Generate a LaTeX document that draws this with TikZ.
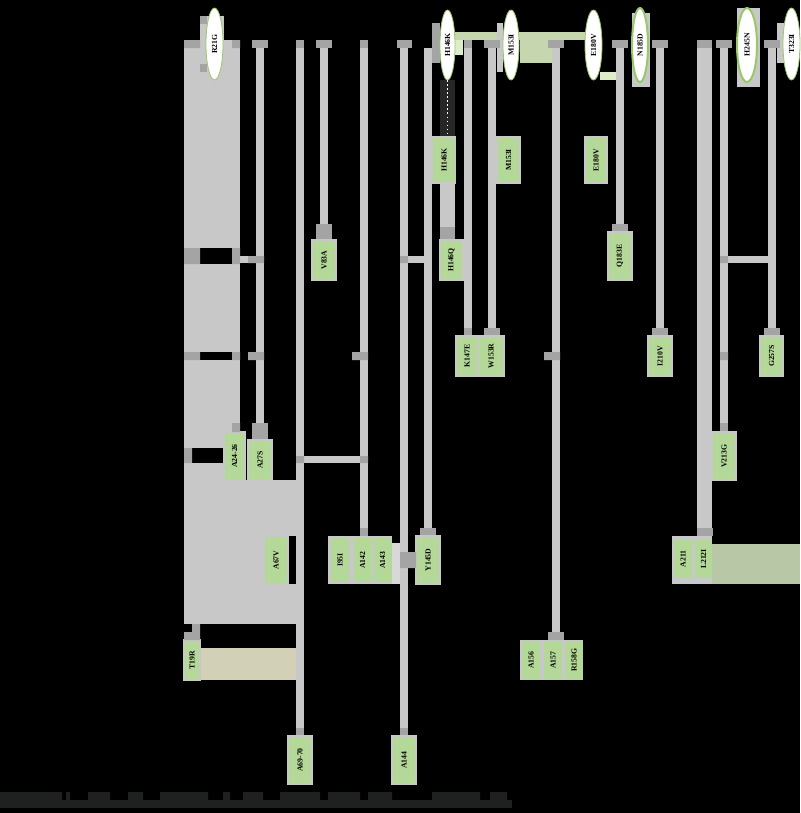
\documentclass[tikz,border=0pt]{standalone}
\usepackage{fontspec}
\usepackage{xcolor}
\usepackage{tikz}
\usetikzlibrary{shapes.geometric}
\newfontfamily\mutserif{Liberation Serif}
\newcommand{\mutfont}{\mutserif\bfseries\fontsize{5.5}{6}\selectfont}
\definecolor{branchgray}{HTML}{C8C8C8}
\definecolor{capgray}{HTML}{A4A4A4}
\definecolor{leafgreen}{HTML}{B4D898}
\definecolor{ringgreen}{HTML}{98C868}
\definecolor{bandgreen}{HTML}{C6D6AE}
\definecolor{palegreen}{HTML}{DEECC8}
\definecolor{mossgray}{HTML}{B8C8A6}
\definecolor{sandgray}{HTML}{D3D0B8}
\definecolor{inkgray}{HTML}{1F2121}
\definecolor{dotgray}{HTML}{262626}
\definecolor{lightgray}{HTML}{D8D8D8}

\begin{document}
\begin{tikzpicture}[
       x=0.25mm, y=-0.25mm,
       leafbox/.style={
           rectangle, rotate=90,
           fill=leafgreen,
           draw=branchgray, line width=0.4mm,
           inner sep=0pt,
           minimum width=10mm, minimum height=6mm,
           font=\mutfont
       },
       leafin/.style={
           rectangle, rotate=90,
           fill=leafgreen,
           inner sep=0pt,
           minimum width=11mm, minimum height=4.5mm,
           font=\mutfont
       },
       tagnode/.style={
           ellipse, rotate=90,
           fill=white,
           draw=ringgreen, line width=0.2mm,
           inner sep=0pt,
           minimum width=18mm, minimum height=4.25mm,
           font=\mutfont
       },
       capbox/.style={
           rectangle,
           fill=capgray,
           inner sep=0pt,
           minimum width=4mm, minimum height=2mm
       },
       branch/.style={draw=branchgray, line width=2mm},
       link/.style={draw=branchgray, line width=1.75mm}
   ]

   \useasboundingbox (0,0) rectangle (800,813);
   \fill[black] (0,0) rectangle (800,813);


   % Bands
   \fill[bandgreen] (455,32) rectangle (587,40);
   \fill[bandgreen] (520,40) rectangle (553,63);
   \fill[palegreen] (600,72) rectangle (616,80);
   \fill[mossgray] (712,544) rectangle (800,584);
   \fill[sandgray] (200,648) rectangle (296,680);
   \fill[lightgray] (392,543) rectangle (400,584);


   % Left block
   \fill[branchgray] (184,40) rectangle (240,432);
   \fill[branchgray] (184,432) rectangle (224,480);
   \fill[branchgray] (184,480) rectangle (296,624);
   \fill[black] (200,248) rectangle (232,264);
   \fill[black] (200,352) rectangle (232,360);
   \fill[black] (192,448) rectangle (224,463);
   \fill[black] (288,536) rectangle (296,584);


   % Backings of the top tags
   \fill[branchgray] (200,16) rectangle (224,72);
   \fill[capgray] (200,16) rectangle (207,24);
   \fill[capgray] (200,64) rectangle (207,72);
   \fill[capgray] (432,23) rectangle (440,63);
   \fill[palegreen] (455,40) rectangle (463,55);
   \fill[branchgray] (497,23) rectangle (503,72);
   \fill[branchgray] (632,13) rectangle (650,87);
   \fill[branchgray] (737,8) rectangle (760,87);
   \fill[branchgray] (777,23) rectangle (785,63);
   \fill[dotgray] (440,80) rectangle (455,137);


   % Top caps
   \node[capbox] (t27) at (260,44) {};
   \node[capbox, minimum width=2mm] (t69) at (300,44) {};
   \node[capbox] (t83) at (324,44) {};
   \node[capbox, minimum width=2mm] (t95) at (364,44) {};
   \node[capbox, minimum width=3.75mm] (t144) at (404,44) {};
   \coordinate (t145) at (428,48);
   \node[capbox, minimum width=2mm] (t147) at (468,44) {};
   \node[capbox] (t153) at (492,44) {};
   \node[capbox] (t157) at (556,44) {};
   \node[capbox] (t183) at (620,44) {};
   \node[capbox] (t210) at (660,44) {};
   \node[capbox, minimum width=3.75mm] (t212) at (704.5,44) {};
   \node[capbox] (t213) at (724,44) {};
   \node[capbox] (t257) at (772,44) {};


   % Bottom caps
   \node[capbox, minimum height=4.25mm] (c27) at (260,431.5) {};
   \node[capbox, minimum width=2mm] (c69) at (300,732) {};
   \node[capbox, minimum height=4mm] (c83) at (324,232) {};
   \node[capbox, minimum width=2mm] (c95) at (364,532) {};
   \node[capbox, minimum width=2mm] (c144) at (404,732) {};
   \node[capbox] (c145) at (428,532) {};
   \node[capbox, minimum width=2mm] (c147) at (468,332) {};
   \node[capbox] (c153) at (492,332) {};
   \node[capbox] (c157) at (556,636) {};
   \node[capbox] (c183) at (620,228) {};
   \node[capbox] (c210) at (660,332) {};
   \node[capbox] (c212) at (704.5,532) {};
   \node[capbox, minimum width=2mm, minimum height=2.25mm] (c213) at (724,427.5) {};
   \node[capbox] (c257) at (772,332) {};
   \node[capbox, minimum width=3.75mm, minimum height=3.25mm] (c146) at (447.5,233.5) {};


   % Leaf labels
   \node[leafbox] (v83a) at (324,260) {V83A};
   \node[leafbox, minimum width=11.5mm, minimum height=5.75mm] (h146k) at (444,160) {H146K};
   \node[leafbox, minimum width=11.5mm, minimum height=5.75mm] (m153i) at (508.5,160) {M153I};
   \node[leafbox, minimum width=11.5mm, minimum height=5.5mm] (e180v) at (596,160) {E180V};
   \node[leafbox, minimum height=5.75mm] (h146q) at (451.5,260) {H146Q};
   \node[leafbox, minimum width=12mm] (q183e) at (620,256) {Q183E};
   \node[leafbox, minimum height=5.5mm] (k147e) at (467,356) {K147E};
   \node[leafbox, minimum height=6.5mm] (w153r) at (491,356) {W153R};
   \node[leafbox] (i210v) at (660,356) {I210V};
   \node[leafbox, minimum height=5.75mm] (g257s) at (771.5,356) {G257S};
   \node[leafbox, minimum width=12mm, minimum height=5.25mm] (a2426) at (234.5,456) {A24-26};
   \node[leafbox] (a27s) at (260,460) {A27S};
   \node[leafbox, minimum width=12mm] (v213g) at (724,456) {V213G};
   \node[leafbox, minimum width=12mm] (a67v) at (276,560) {A67V};
   \node[leafbox, minimum width=12mm] (y145d) at (428,560) {Y145D};
   \node[leafbox, minimum height=4mm] (t19r) at (192,660) {T19R};
   \node[leafbox, minimum width=12mm] (a6970) at (300,760) {A69-70};
   \node[leafbox, minimum width=12mm] (a144) at (404,760) {A144};


   % Grouped labels
   \fill[branchgray] (328,536) rectangle (392,584);
   \node[leafin] (i95i) at (340,560) {I95I};
   \node[leafin] (a142) at (362.5,560) {A142};
   \node[leafin] (a143) at (382.5,560) {A143};

   \fill[branchgray] (520,640) rectangle (583,680);
   \node[leafin, minimum width=9.5mm] (a156) at (531,660) {A156};
   \node[leafin, minimum width=9.5mm] (a157) at (553,660) {A157};
   \node[leafin, minimum width=9.5mm] (r158g) at (574,660) {R158G};

   \fill[branchgray] (672,536) rectangle (712,584);
   \node[leafin, minimum width=9.5mm] (a211) at (683,559) {A211};
   \node[leafin, minimum width=9.5mm, minimum height=4.25mm] (l212i) at (703.5,559) {L212I};


   % Top tags
   \node[tagnode] (r21g) at (214.5,44) {R21G};
   \node[tagnode, minimum width=17.5mm, minimum height=3.75mm] (h146kt) at (447.5,45) {H146K};
   \node[tagnode, minimum width=17.5mm, minimum height=4mm] (m153it) at (511,45) {M153I};
   \node[tagnode, minimum width=17.5mm] (e180vt) at (593.5,45) {E180V};
   \node[tagnode, minimum width=18.5mm, minimum height=4mm, line width=0.5mm] (n185d) at (640,45) {N185D};
   \node[tagnode, minimum width=18.5mm, minimum height=5mm, line width=0.5mm] (h245n) at (747,45) {H245N};
   \node[tagnode] (t323i) at (791.5,44) {T323I};


   % Branches
   \draw[branch] (t27) -- (c27);
   \draw[branch] (t69) -- (c69);
   \draw[branch] (t83) -- (c83);
   \draw[branch] (t95) -- (c95);
   \draw[branch] (t144) -- (c144);
   \draw[branch] (t145) -- (c145);
   \draw[branch] (t147) -- (c147);
   \draw[branch] (t153) -- (c153);
   \draw[branch] (t157) -- (c157);
   \draw[branch] (t183) -- (c183);
   \draw[branch] (t210) -- (c210);
   \draw[branch, line width=3.75mm] (t212) -- (c212);
   \draw[branch] (t213) -- (c213);
   \draw[branch] (t257) -- (c257);
   \coordinate (h146kb) at (447.5,183.5);
   \draw[branch, line width=3.75mm] (h146kb) -- (c146);
   \draw[white, dotted, line width=0.3mm] (h146kt) -- (h146kt |- h146k.east);


   % Links
   \coordinate (j24) at (240,259.5);
   \coordinate (j27) at (260,259.5);
   \coordinate (j144) at (404,259.5);
   \coordinate (j145) at (428,259.5);
   \coordinate (j213) at (724,259.5);
   \coordinate (j257) at (772,259.5);
   \coordinate (j69) at (300,459.5);
   \coordinate (j95) at (364,459.5);
   \draw[link] (j24) -- (j27);
   \draw[link] (j144) -- (j145);
   \draw[link] (j213) -- (j257);
   \draw[link] (j69) -- (j95);


   % Ticks
   \fill[capgray] (184,40) rectangle (200,48) (232,40) rectangle (240,48)
       (184,248) rectangle (200,264) (232,248) rectangle (240,264)
       (184,352) rectangle (200,360) (232,352) rectangle (240,360)
       (184,448) rectangle (192,463) (232,423) rectangle (240,432)
       (192,624) rectangle (200,632) (184,632) rectangle (200,640)
       (248,256) rectangle (264,263) (248,352) rectangle (264,360)
       (352,352) rectangle (368,360) (544,352) rectangle (560,360)
       (720,256) rectangle (728,263) (720,352) rectangle (728,360)
       (400,256) rectangle (408,263) (400,552) rectangle (416,568)
       (296,456) rectangle (304,463) (360,456) rectangle (368,463);


   % Bottom strip
   \fill[inkgray] (0,800) rectangle (512,808);
   \fill[inkgray] (0,792) rectangle (62,800) (66,792) rectangle (70,800)
       (88,792) rectangle (110,800) (128,792) rectangle (143,800)
       (160,792) rectangle (208,800) (223,792) rectangle (230,800)
       (243,792) rectangle (263,800) (280,792) rectangle (320,800)
       (328,792) rectangle (360,800) (368,792) rectangle (392,800)
       (432,792) rectangle (480,800) (490,792) rectangle (507,800);

   \end{tikzpicture}
\end{document}
